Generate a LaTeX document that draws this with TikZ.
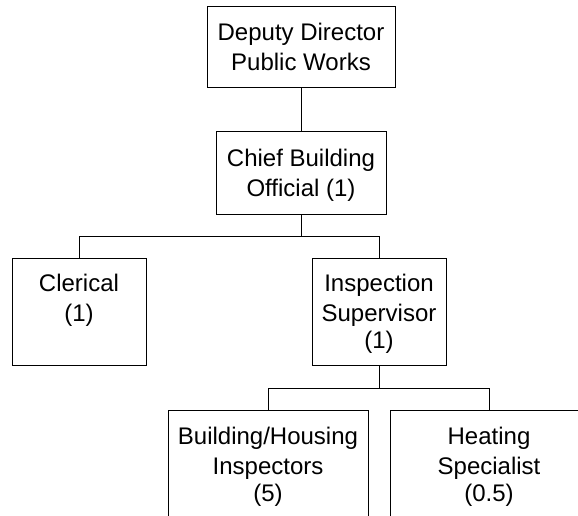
\documentclass[tikz,border=0pt]{standalone}
\usepackage{fontspec}
\setmainfont{Liberation Sans}
\begin{document}
\begin{tikzpicture}[x=1pt,y=-1pt,
  orgbox/.style={draw=black, line width=1pt, inner sep=0pt, fill=white},
  orgtext/.style={anchor=north, inner sep=0pt, align=center,
    font=\fontsize{24}{30.5}\selectfont},
  link/.style={draw=black, line width=1pt}]
\useasboundingbox (0,0) rectangle (578,516);
\clip (0,0) rectangle (578,516);

% boxes
\node[orgbox, minimum width=188pt, minimum height=81pt] (deputy) at (301,47.5) {};
\node[orgbox, minimum width=170pt, minimum height=82pt] (chief) at (301,173) {};
\node[orgbox, minimum width=134pt, minimum height=107pt] (clerical) at (79,311.5) {};
\node[orgbox, minimum width=134pt, minimum height=107pt] (insp) at (379,311.5) {};
\node[orgbox, minimum width=200pt, minimum height=120pt] (build) at (268,470) {};
\node[orgbox, minimum width=198pt, minimum height=120pt] (heat) at (489,470) {};

% labels (first baseline 18pt below the node's north)
\node[orgtext] (deputy-t) at (301,22) {\rule{0pt}{18pt}Deputy Director\\Public Works};
\node[orgtext] (chief-t) at (301,148) {\rule{0pt}{18pt}Chief Building\\Official (1)};
\node[orgtext] (clerical-t) at (79,273) {\rule{0pt}{18pt}Clerical\\(1)};
\node[orgtext] (insp-t) at (379,273) {\rule{0pt}{18pt}Inspection\\Supervisor\\[-4pt](1)};
\node[orgtext] (build-t) at (268,426) {\rule{0pt}{18pt}Building/Housing\\Inspectors\\[-4pt](5)};
\node[orgtext] (heat-t) at (489,426) {\rule{0pt}{18pt}Heating\\Specialist\\[-4pt](0.5)};

% connectors
\coordinate (bus1) at (301,236);
\coordinate (bus2) at (379,388);
\draw[link] (deputy.south) -- (chief.north);
\draw[link] (chief.south) -- (bus1);
\draw[link] (bus1) -| (clerical.north);
\draw[link] (bus1) -| (insp.north);
\draw[link] (insp.south) -- (bus2);
\draw[link] (bus2) -| (build.north);
\draw[link] (bus2) -| (heat.north);
\end{tikzpicture}
\end{document}
